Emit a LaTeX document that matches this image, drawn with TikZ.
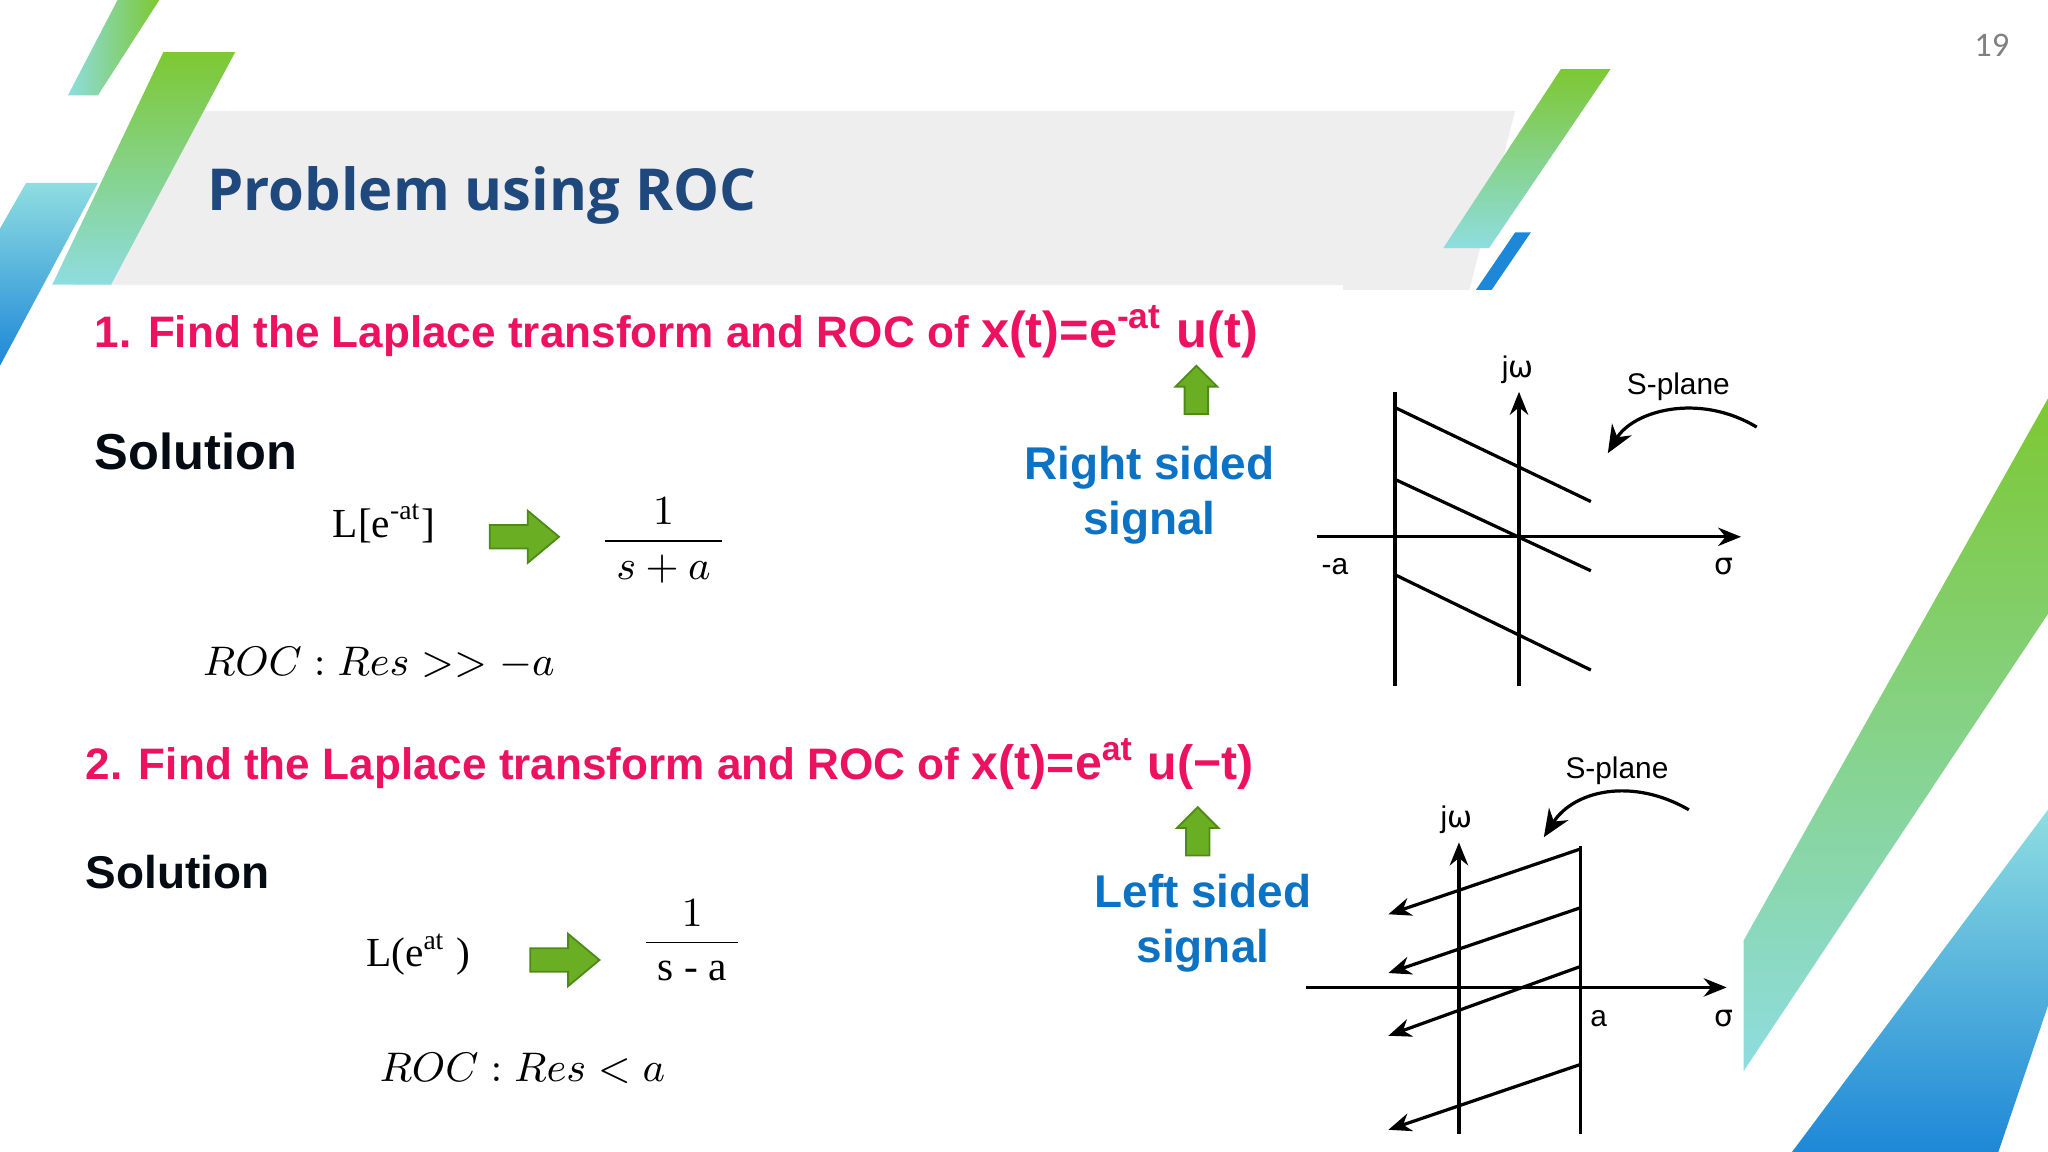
\documentclass[tikz,border=0pt]{standalone}
\usepackage{amsmath}
\usepackage{fontspec}
\setmainfont{Liberation Serif}
\setsansfont{Liberation Sans}
\newfontfamily\titlefont{Open Sans}
\newfontfamily\numfont{Carlito}
\newfontfamily\symfont{DejaVu Sans}
\usetikzlibrary{arrows.meta}
\definecolor{navy}{HTML}{1F497D}
\definecolor{redt}{HTML}{EC1260}
\definecolor{bluet}{HTML}{0B72C4}
\definecolor{garrow}{HTML}{6AAF23}
\definecolor{gedge}{HTML}{4E8A18}
\definecolor{stripeg}{HTML}{7DC832}
\definecolor{stripet}{HTML}{8EDDE0}
\definecolor{stripeb}{HTML}{1E88D8}
\tikzset{
 red/.style={text=redt,font=\sffamily\bfseries\fontsize{9.6}{11}\selectfont,anchor=west,inner sep=0pt},
 sol/.style={text=black!85!navy,font=\sffamily\bfseries\fontsize{11}{13}\selectfont,anchor=west,inner sep=0pt},
 blu/.style={text=bluet,font=\sffamily\bfseries\fontsize{10}{12}\selectfont,align=center},
 mth/.style={font=\fontsize{9}{11}\selectfont},
 axis/.style={line width=0.7pt,-{Stealth[length=5pt,width=4pt]}},
 ln/.style={line width=0.7pt},
 lab/.style={font=\sffamily\fontsize{6.5}{8}\selectfont},
 garr/.style={fill=garrow,draw=gedge,line width=0.4pt}
}
\begin{document}
\begin{tikzpicture}[x=0.01cm,y=-0.01cm]
\useasboundingbox (0,0) rectangle (1568,882);
% banner
\fill[gray!13] (150,85) -- (1160,85) -- (1125,222) -- (55,222) -- cycle;
\fill[white] (55,218) rectangle (1028,240);
% stripes
\shade[left color=stripet,right color=stripeg] (90,0) -- (122,0) -- (75,73) -- (52,73) -- cycle;
\shade[top color=stripeg,bottom color=stripet] (125,40) -- (180,40) -- (85,218) -- (40,218) -- cycle;
\shade[top color=stripet,bottom color=stripeb] (20,140) -- (75,140) -- (0,280) -- (0,175) -- cycle;
\shade[top color=stripeg,bottom color=stripet] (1195,53) -- (1233,53) -- (1140,190) -- (1105,190) -- cycle;
\fill[stripeb] (1160,178) -- (1172,178) -- (1142,222) -- (1130,222) -- cycle;
\shade[top color=stripeg,bottom color=stripet] (1568,305) -- (1568,470) -- (1335,820) -- (1335,720) -- cycle;
\shade[top color=stripet,bottom color=stripeb] (1568,620) -- (1568,770) -- (1530,882) -- (1372,882) -- cycle;
\node[text=gray,font=\numfont\fontsize{7.5}{9}\selectfont] (pg) at (1525,35) {19};
\node[anchor=west,inner sep=0pt,text=navy,font=\titlefont\bfseries\fontsize{12.6}{15}\selectfont] (title) at (158,150) {Problem using ROC};
% part 1
\node[red] (q1) at (72,254) {1. Find the Laplace transform and ROC of {\fontsize{11}{13}\selectfont x(t)=e\textsuperscript{-at} u(t)}};
\node[sol] (s1) at (72,346) {Solution};
\node[mth] (l1) at (294,401) {L[e\textsuperscript{-at}]};
\draw[garr] (375,402) -- (404,402) -- (404,391) -- (428,411) -- (404,431) -- (404,420) -- (375,420) -- cycle;
\node[mth] (f1) at (508,414) {$\dfrac{1}{\;s+a\;}$};
\node[mth] (r1) at (290,508) {$ROC : Res >> -a$};
\draw[garr] (907,317) -- (907,296) -- (900,296) -- (916,280) -- (932,296) -- (925,296) -- (925,317) -- cycle;
\node[blu] (rs) at (880,379) {Right sided\\signal};
% diagram 1
\coordinate (v1t) at (1068,300); \coordinate (v1b) at (1068,525);
\draw[ln] (v1t) -- (v1b);
\coordinate (j1b) at (1163,525); \coordinate (j1t) at (1163,300);
\draw[axis] (j1b) -- (j1t);
\coordinate (s1l) at (1008,411); \coordinate (s1r) at (1333,411);
\draw[axis] (s1l) -- (s1r);
\draw[ln] (1068,312) -- (1218,384);
\draw[ln] (1068,367) -- (1218,437);
\draw[ln] (1068,440) -- (1218,513);
\node[lab] (jw1) at (1162,283) {j{\symfont ω}};
\node[lab] (sp1) at (1285,296) {S-plane};
\node[lab] (ma) at (1022,434) {-a};
\node[lab] (sg1) at (1320,434) {{\symfont σ}};
\coordinate (c1a) at (1345,327); \coordinate (c1b) at (1231,347);
\draw[ln,-{Stealth[length=6pt,width=5pt]}] (c1a) .. controls (1300,300) and (1250,315) .. (c1b);
% part 2
\node[red] (q2) at (65,585) {2. Find the Laplace transform and ROC of {\fontsize{10.5}{13}\selectfont x(t)=e\textsuperscript{at} u(−t)}};
\node[sol,font=\sffamily\bfseries\fontsize{10}{12}\selectfont] (s2) at (65,668) {Solution};
\node[mth] (l2) at (320,731) {L(e\textsuperscript{at} )};
\draw[garr] (406,726) -- (435,726) -- (435,715) -- (459,735) -- (435,755) -- (435,744) -- (406,744) -- cycle;
\node[mth] (f2) at (530,720) {$\dfrac{1}{\;\text{s - a}\;}$};
\node[mth] (r2) at (400,818) {$ROC : Res < a$};
\draw[garr] (908,655) -- (908,634) -- (901,634) -- (917,618) -- (933,634) -- (926,634) -- (926,655) -- cycle;
\node[blu] (ls) at (921,707) {Left sided\\signal};
% diagram 2
\coordinate (j2b) at (1117,868); \coordinate (j2t) at (1117,645);
\draw[axis] (j2b) -- (j2t);
\coordinate (v2t) at (1210,648); \coordinate (v2b) at (1210,868);
\draw[ln] (v2t) -- (v2b);
\coordinate (s2l) at (1000,756); \coordinate (s2r) at (1322,756);
\draw[axis] (s2l) -- (s2r);
\draw[axis] (1210,650) -- (1063,700);
\draw[axis] (1210,695) -- (1063,745);
\draw[axis] (1210,740) -- (1063,793);
\draw[axis] (1210,815) -- (1063,865);
\node[lab] (jw2) at (1115,628) {j{\symfont ω}};
\node[lab] (sp2) at (1238,590) {S-plane};
\node[lab] (pa) at (1224,780) {a};
\node[lab] (sg2) at (1320,780) {{\symfont σ}};
\coordinate (c2a) at (1293,620); \coordinate (c2b) at (1182,641);
\draw[ln,-{Stealth[length=6pt,width=5pt]}] (c2a) .. controls (1250,595) and (1205,605) .. (c2b);
\end{tikzpicture}
\end{document}
